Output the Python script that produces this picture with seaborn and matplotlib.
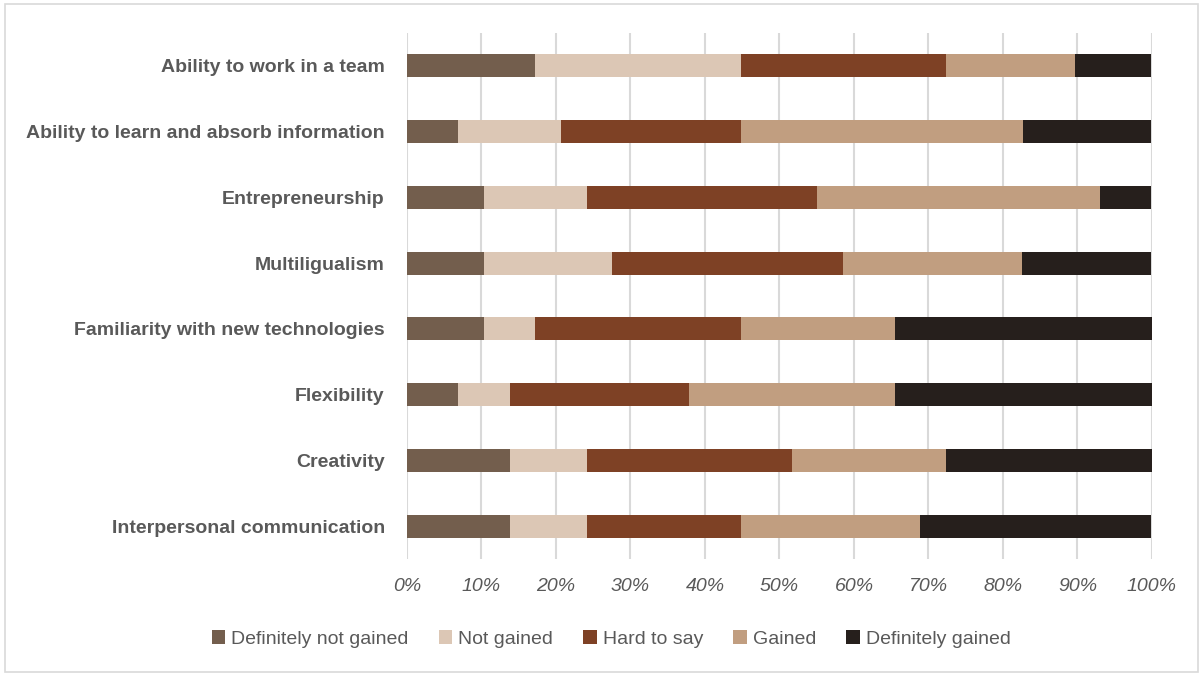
import numpy as np
import pandas as pd
import matplotlib
matplotlib.use("Agg")
import matplotlib.pyplot as plt
import seaborn as sns
from matplotlib.patches import Patch, Rectangle

categories = [
    "Ability to work in a team",
    "Ability to learn and absorb information",
    "Entrepreneurship",
    "Multiligualism",
    "Familiarity with new technologies",
    "Flexibility",
    "Creativity",
    "Interpersonal communication",
]
series_names = ["Definitely not gained", "Not gained", "Hard to say", "Gained", "Definitely gained"]

# Share of respondents (%) per answer, in the order of series_names
definitely_not_gained = [17.2, 6.9, 10.3, 10.3, 10.3, 6.9, 13.8, 13.8]
not_gained = [27.6, 13.8, 13.8, 17.2, 6.9, 6.9, 10.3, 10.3]
hard_to_say = [27.6, 24.1, 31.0, 31.0, 27.6, 24.1, 27.6, 20.7]
gained = [17.2, 37.9, 37.9, 24.1, 20.7, 27.6, 20.7, 24.1]
definitely_gained = [10.3, 17.2, 6.9, 17.2, 34.5, 34.5, 27.6, 31.0]

colors = ["#735E4D", "#DCC7B5", "#7E4125", "#C19E80", "#261F1C"]
tick_labels = [f"{v}%" for v in range(0, 101, 10)]

sns.set_theme(style="white")
plt.rcParams["font.family"] = ["Liberation Sans", "DejaVu Sans"]

df = pd.DataFrame(
    {
        "category": categories,
        series_names[0]: definitely_not_gained,
        series_names[1]: not_gained,
        series_names[2]: hard_to_say,
        series_names[3]: gained,
        series_names[4]: definitely_gained,
    }
)
cum = df[series_names].cumsum(axis=1)
cum["category"] = df["category"]

fig = plt.figure(figsize=(12.03, 6.76), dpi=100)
ax = fig.add_axes([0.3383, 0.1731, 0.6193, 0.7781])

# Draw stacked bars from the outermost cumulative total inward
for name, color in reversed(list(zip(series_names, colors))):
    sns.barplot(
        data=cum, x=name, y="category", order=categories, orient="h",
        color=color, width=0.35, saturation=1, ax=ax, linewidth=0, zorder=3,
    )

ax.set_xlim(0, 100)
ax.set_ylim(7.5, -0.5)
ax.set_xticks(range(0, 101, 10))
ax.set_xticklabels(tick_labels, fontsize=14, style="italic", color="#595959")
ax.tick_params(axis="x", length=0, pad=14)
ax.tick_params(axis="y", length=0, pad=16)
for lbl in ax.get_yticklabels():
    lbl.set_fontsize(14)
    lbl.set_fontweight("bold")
    lbl.set_color("#595959")
ax.set_xlabel("")
ax.set_ylabel("")
ax.grid(axis="x", color="#D9D9D9", linewidth=1.5, zorder=0)
for s in ax.spines.values():
    s.set_visible(False)

handles = [Patch(facecolor=c, edgecolor="none") for c in colors]
fig.legend(
    handles, series_names, loc="center", bbox_to_anchor=(0.508, 0.055), ncol=5,
    frameon=False, fontsize=14, handlelength=0.7, handleheight=0.7,
    handletextpad=0.3, columnspacing=1.55, labelcolor="#595959",
)

# Light outer frame around the chart
fig.patches.append(Rectangle((0.004, 0.006), 0.992, 0.988, transform=fig.transFigure,
                             fill=False, edgecolor="#D9D9D9", linewidth=1.2))

fig.savefig("out.png", dpi=100)
